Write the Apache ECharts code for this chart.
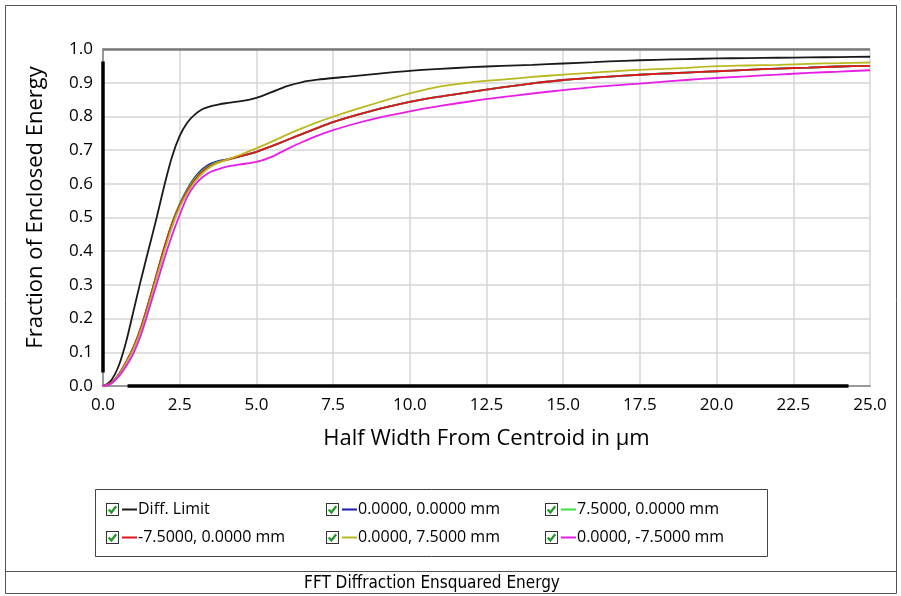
<!DOCTYPE html>
<html>
<head>
<meta charset="utf-8">
<script src="https://cdn.jsdelivr.net/npm/echarts@6/dist/echarts.min.js"></script>
<style>
html,body{margin:0;padding:0;background:#fff;}
#c{width:901px;height:596px;}
</style>
</head>
<body>
<div id="c"></div>
<script>
// ---- data ----
const halfWidth = [0,0.25,0.5,0.75,1,1.25,1.5,1.75,2,2.25,2.5,2.75,3,3.25,3.5,3.75,4,4.5,5,5.5,6,6.5,7,7.5,8,9,10,11,12,13,14,15,16,17,18,19,20,21,22,23,24,25];
const diffLimit = [0,0.015,0.057,0.13,0.225,0.32,0.41,0.50,0.595,0.68,0.742,0.782,0.806,0.822,0.830,0.835,0.839,0.845,0.855,0.872,0.890,0.902,0.909,0.914,0.918,0.927,0.935,0.941,0.946,0.950,0.953,0.957,0.961,0.965,0.968,0.970,0.972,0.973,0.974,0.975,0.976,0.977];
const field00 = [0,0.008,0.033,0.071,0.117,0.177,0.252,0.332,0.412,0.483,0.540,0.585,0.620,0.644,0.659,0.667,0.672,0.683,0.695,0.712,0.730,0.748,0.766,0.783,0.797,0.822,0.843,0.859,0.873,0.886,0.898,0.908,0.915,0.921,0.926,0.930,0.934,0.938,0.942,0.945,0.948,0.950];
const fieldP75x = [0,0.008,0.032,0.070,0.116,0.176,0.251,0.331,0.411,0.482,0.538,0.582,0.616,0.640,0.655,0.665,0.671,0.682,0.695,0.712,0.730,0.748,0.766,0.783,0.797,0.822,0.843,0.859,0.873,0.886,0.898,0.908,0.915,0.921,0.926,0.930,0.934,0.938,0.942,0.945,0.948,0.950];
const fieldM75x = [0,0.008,0.032,0.070,0.115,0.175,0.250,0.330,0.410,0.480,0.535,0.578,0.612,0.637,0.653,0.663,0.670,0.682,0.695,0.712,0.730,0.748,0.766,0.783,0.797,0.822,0.843,0.859,0.873,0.886,0.898,0.908,0.915,0.921,0.926,0.930,0.934,0.938,0.942,0.945,0.948,0.950];
const fieldP75y = [0,0.007,0.030,0.067,0.110,0.168,0.242,0.322,0.400,0.472,0.530,0.573,0.607,0.632,0.650,0.662,0.670,0.687,0.705,0.725,0.746,0.765,0.783,0.799,0.814,0.842,0.868,0.889,0.901,0.909,0.917,0.924,0.930,0.936,0.940,0.944,0.949,0.951,0.953,0.956,0.958,0.960];
const fieldM75y = [0,0.006,0.027,0.058,0.098,0.155,0.228,0.303,0.378,0.447,0.508,0.562,0.597,0.620,0.635,0.643,0.650,0.658,0.665,0.680,0.703,0.724,0.743,0.759,0.773,0.796,0.815,0.831,0.845,0.857,0.868,0.878,0.887,0.894,0.901,0.908,0.914,0.919,0.924,0.929,0.933,0.937];
const seriesNames = ['Diff. Limit','0.0000, 0.0000 mm','7.5000, 0.0000 mm','-7.5000, 0.0000 mm','0.0000, 7.5000 mm','0.0000, -7.5000 mm'];
const seriesValues = [diffLimit, field00, fieldP75x, fieldM75x, fieldP75y, fieldM75y];
const seriesColors = ['#1a1a1a','#1c1cb4','#3ee03e','#e0141c','#b9b91e','#e61ee6'];
const xTicks = ['0.0','2.5','5.0','7.5','10.0','12.5','15.0','17.5','20.0','22.5','25.0'];

const checkSvg = 'data:image/svg+xml;utf8,' + encodeURIComponent(
 '<svg xmlns="http://www.w3.org/2000/svg" width="13" height="13"><rect x="0.5" y="0.5" width="12" height="12" fill="#fff" stroke="#333" stroke-width="1"/><path d="M2.7 6.5 L5.4 9.4 L10.2 3.2" fill="none" stroke="#1f9a2a" stroke-width="2.3"/></svg>');

const rich = { cb: { backgroundColor: { image: checkSvg }, width: 13, height: 13 }, t: { fontSize: 16, color: '#000', fontFamily: 'Open Sans', padding: [0,0,0,1] } };
seriesColors.forEach((c, i) => { rich['l' + i] = { width: 15, height: 2, backgroundColor: c }; });

function legendCol(names, left) {
  return {
    data: names, orient: 'vertical', left: left, top: 500, itemGap: 9,
    icon: 'rect', itemWidth: 0, itemHeight: 0, padding: 0,
    selectedMode: false,
    formatter: n => '{cb|}{sp|}{l' + seriesNames.indexOf(n) + '|}{t|' + n + '}',
    textStyle: { rich: Object.assign({ sp: { width: 3 } }, rich), height: 19, lineHeight: 19 }
  };
}

const chart = echarts.init(document.getElementById('c'), null, { renderer: 'canvas' });
const series = seriesNames.map((n, i) => ({
  name: n, type: 'line', smooth: 0.3, showSymbol: false, symbol: 'none',
  data: halfWidth.map((x, j) => [x, seriesValues[i][j]]),
  lineStyle: { color: seriesColors[i], width: 1.8 }, itemStyle: { color: seriesColors[i] },
  z: 3 + i
}));
series.push({
  type: 'line', data: [], silent: true, z: 10,
  markLine: {
    symbol: 'none', silent: true, label: { show: false },
    data: [
      [{ coord: [0.8, 0], lineStyle: { color: '#000', width: 3.5, type: 'solid' } }, { coord: [24.3, 0] }],
      [{ coord: [0, 0.04], lineStyle: { color: '#000', width: 3.5, type: 'solid' } }, { coord: [0, 0.963] }],
      [{ coord: [0, 1], lineStyle: { color: '#7a7a7a', width: 2.5, type: 'solid' } }, { coord: [25, 1] }]
    ]
  }
});

chart.setOption({
  animation: false,
  backgroundColor: '#fff',
  grid: { left: 103, right: 31, top: 49, bottom: 210, show: false },
  xAxis: {
    type: 'value', min: 0, max: 25, interval: 2.5,
    name: 'Half Width From Centroid in µm', nameLocation: 'middle', nameGap: 42,
    nameTextStyle: { fontSize: 22, color: '#000', fontFamily: 'Open Sans' },
    axisLine: { show: true, lineStyle: { color: '#999', width: 2 } },
    axisTick: { show: false },
    axisLabel: { fontSize: 17, color: '#000', fontFamily: 'Open Sans', margin: 11, formatter: v => xTicks[Math.round(v / 2.5)] },
    splitLine: { show: true, lineStyle: { color: '#d6d6d6', width: 1.5 } }
  },
  yAxis: {
    type: 'value', min: 0, max: 1, interval: 0.1,
    name: 'Fraction of Enclosed Energy', nameLocation: 'middle', nameGap: 56, nameRotate: 90,
    nameTextStyle: { fontSize: 22, color: '#000', fontFamily: 'Open Sans', padding: [0, 0, 0, 20] },
    axisLine: { show: true, lineStyle: { color: '#999', width: 2 } },
    axisTick: { show: false },
    axisLabel: { fontSize: 17, color: '#000', fontFamily: 'Open Sans', margin: 10, formatter: v => v.toFixed(1) },
    splitLine: { show: true, lineStyle: { color: '#d6d6d6', width: 1.5 } }
  },
  legend: [
    legendCol([seriesNames[0], seriesNames[3]], 101),
    legendCol([seriesNames[1], seriesNames[4]], 321),
    legendCol([seriesNames[2], seriesNames[5]], 540)
  ],
  graphic: [
    { type: 'rect', shape: { x: 5.5, y: 5.5, width: 891, height: 588 }, style: { fill: 'none', stroke: '#555', lineWidth: 1 }, silent: true, z: -1 },
    { type: 'line', shape: { x1: 5, y1: 571.5, x2: 896, y2: 571.5 }, style: { stroke: '#555', lineWidth: 1 }, silent: true },
    { type: 'rect', shape: { x: 95.5, y: 489.5, width: 672, height: 67 }, style: { fill: 'none', stroke: '#444', lineWidth: 1 }, silent: true },
    { type: 'text', x: 432, y: 584, style: { text: 'FFT Diffraction Ensquared Energy', font: '17px "Liberation Sans Narrow", "DejaVu Sans Condensed", sans-serif', fill: '#000', textAlign: 'center', textVerticalAlign: 'middle' }, silent: true }
  ],
  series: series
});
</script>
</body>
</html>
